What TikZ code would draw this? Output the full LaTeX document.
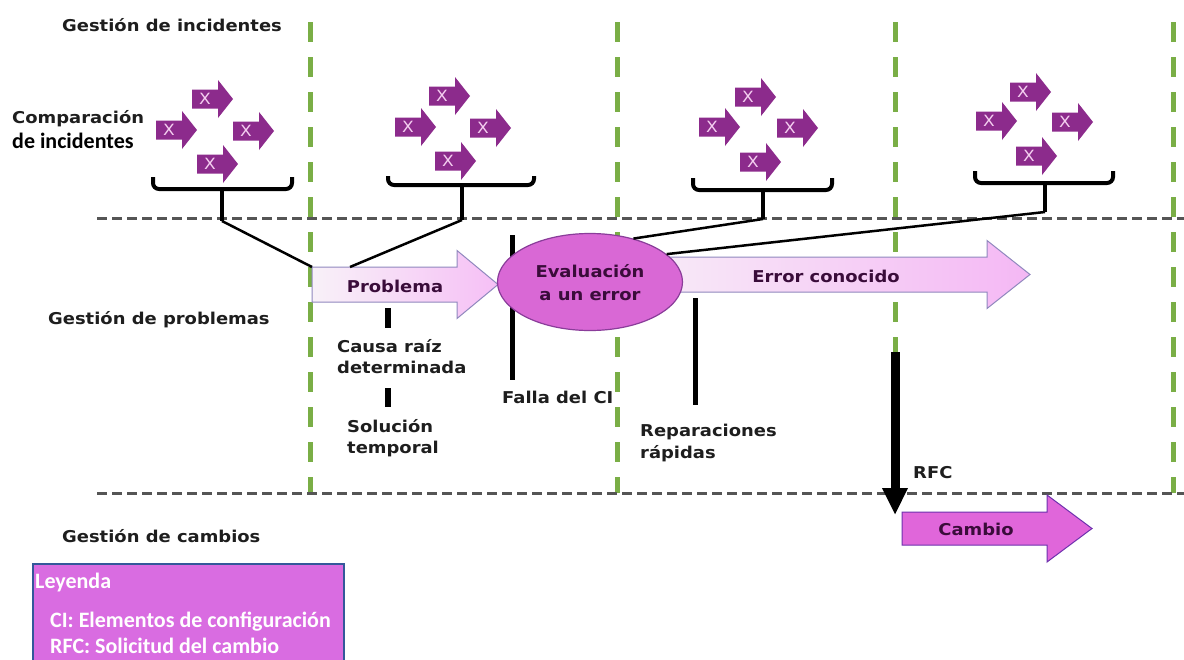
\documentclass[tikz,border=0pt]{standalone}
\usepackage{fontspec}
\setmainfont{DejaVu Sans}[FakeStretch=1.1]
\newfontfamily\calibri{Carlito}
\usetikzlibrary{shapes.geometric,arrows.meta,calc}

\definecolor{gridgray}{HTML}{555555}
\definecolor{lanegreen}{HTML}{7AAE46}
\definecolor{incpurple}{HTML}{8C2B8C}
\definecolor{xpink}{HTML}{F4CEF0}
\definecolor{evalfill}{HTML}{D968D5}
\definecolor{evaldraw}{HTML}{8A3D9A}
\definecolor{cambiofill}{HTML}{E066DA}
\definecolor{arrowedge}{HTML}{9088BE}
\definecolor{inktext}{HTML}{3A0C3A}
\definecolor{legendfill}{HTML}{D96CE1}
\definecolor{legenddraw}{HTML}{34589A}
\definecolor{labelink}{HTML}{1E1E1E}

\newcommand\lblfont{\bfseries\fontsize{16.3}{20}\selectfont}

% block arrow: name, style, tail x, head start x, tip x, centre y, half shaft, half head
\newcommand\blockarrow[8]{%
  \path[#2] (#3,#6-#7) coordinate (#1-nw) -- (#4,#6-#7) -- (#4,#6-#8)
    -- (#5,#6) coordinate (#1-tip) -- (#4,#6+#8) -- (#4,#6+#7)
    -- (#3,#6+#7) coordinate (#1-sw) -- cycle;
}
% one incident marker: name, left x, centre y
\newcommand\incident[3]{%
  \blockarrow{#1}{fill=incpurple}{#2}{#2+26}{#2+41}{#3}{9.5}{19}%
  \node[xmark] (#1-x) at (#2+13,#3) {X};
}
% grouping brace: name, left x, right x, hook top y, bar y, stem x, stem bottom y
\newcommand\incbrace[7]{%
  \draw[brace] (#2,#4) -- (#2,#5) -- (#3,#5) -- (#3,#4);
  \draw[brace, rounded corners=0pt] (#6,#5) -- (#6,#7) coordinate (#1);
}

\begin{document}
\begin{tikzpicture}[x=1pt,y=-1pt,
  lane/.style={draw=lanegreen, line width=5pt, dash pattern=on 20pt off 15pt},
  divider/.style={draw=gridgray, line width=3pt, dash pattern=on 10pt off 5pt},
  brace/.style={draw=black, line width=4pt, rounded corners=6pt},
  link/.style={draw=black, line width=2.5pt},
  marker/.style={draw=black, line width=6pt},
  xmark/.style={inner sep=0pt, text=xpink, font=\fontsize{15.5}{15.5}\selectfont},
  lbl/.style={inner sep=0pt, anchor=base west, text=labelink, font=\lblfont},
  inarrow/.style={inner sep=0pt, anchor=base, text=inktext, font=\lblfont},
  legendtext/.style={inner sep=0pt, anchor=base west, text=white, font=\calibri\bfseries\fontsize{22}{24}\selectfont},
  paleflow/.style={draw=arrowedge, line width=1pt},
]
\fill[white] (0,0) rectangle (1184,659);
\useasboundingbox (0,0) rectangle (1184,659);

% swimlane separators
\foreach \lx/\ln in {310/1, 617/2, 895/3, 1173/4}
  \draw[lane] (\lx,22) coordinate (lane\ln-top) -- (\lx,493) coordinate (lane\ln-bot);
\draw[divider] (97,218) coordinate (div1-l) -- (1184,218) coordinate (div1-r);
\draw[divider] (97,493) coordinate (div2-l) -- (1184,493) coordinate (div2-r);

% incident groups
\incident{a1}{192}{99}  \incident{a2}{156}{130} \incident{a3}{233}{131} \incident{a4}{197}{164}
\incident{b1}{429}{96}  \incident{b2}{395}{127} \incident{b3}{470}{128} \incident{b4}{435}{161}
\incident{c1}{735}{97}  \incident{c2}{699}{127} \incident{c3}{777}{128} \incident{c4}{740}{162}
\incident{d1}{1010}{92} \incident{d2}{976}{121} \incident{d3}{1052}{122} \incident{d4}{1016}{156}

\incbrace{st1}{153}{292}{177}{189}{222}{221}
\incbrace{st2}{388}{534}{176}{185}{462}{220}
\incbrace{st3}{693}{832}{178}{190}{763}{219}
\incbrace{st4}{975}{1113}{171}{183}{1045}{212}

% milestone markers
\draw[marker] (388,308) coordinate (m1-a) -- (388,328) coordinate (m1-b);
\draw[marker] (388,388) coordinate (m2-a) -- (388,407) coordinate (m2-b);
\draw[line width=5pt] (512,235) coordinate (m3-a) -- (512,380) coordinate (m3-b);
\draw[line width=5pt] (695,298) coordinate (m4-a) -- (695,405) coordinate (m4-b);

% problem flow
\blockarrow{prob}{paleflow, left color=white!55!violet!12, right color=violet!30!magenta!25}{312}{457}{498}{284.5}{17.5}{34}
\blockarrow{known}{paleflow, left color=magenta!28!violet!8, middle color=magenta!12!violet!5, right color=violet!30!magenta!28}{650}{987}{1030}{274.5}{17.5}{34}
\node[ellipse, minimum width=185pt, minimum height=97pt, inner sep=0pt,
      fill=evalfill, draw=evaldraw, line width=1.2pt] (ev) at (590,282) {};
\node[inarrow] (ev-l1) at (590,277) {Evaluación};
\node[inarrow] (ev-l2) at (590,300) {a un error};
\node[inarrow] (prob-t) at (395,292) {Problema};
\node[inarrow] (known-t) at (826,282) {Error conocido};

% links from incident groups
\draw[link] (st1) -- (prob-nw);
\draw[link] (st2) -- ([xshift=38pt]prob-nw);
\draw[link] (st3) -- (ev.45);
\draw[link] (st4) -- (ev.20);

% request for change
\coordinate (rfc-top) at (895,352);
\coordinate (rfc-end) at (895,515);
\draw[line width=9pt, -{Triangle[width=24pt,length=27pt]}] (rfc-top) -- (rfc-end);
\blockarrow{chg}{fill=cambiofill, draw=evaldraw!80!blue, line width=1pt}{902}{1047}{1092}{528.5}{16.5}{33.5}
\node[inarrow] (chg-t) at (976,535) {Cambio};

% lane and milestone labels
\node[lbl] (t-inc) at (62,31) {Gestión de incidentes};
\node[lbl] (t-comp) at (12,123) {Comparación};
\node[inner sep=0pt, anchor=base west, text=black, font=\calibri\bfseries\fontsize{22}{24}\selectfont] (t-comp2) at (12,148) {de incidentes};
\node[lbl] (t-prob) at (48,324) {Gestión de problemas};
\node[lbl] (t-camb) at (62,542) {Gestión de cambios};
\node[lbl] (t-causa1) at (337,352) {Causa raíz};
\node[lbl] (t-causa2) at (337,373) {determinada};
\node[lbl] (t-sol1) at (347,432) {Solución};
\node[lbl] (t-sol2) at (347,453) {temporal};
\node[lbl] (t-falla) at (502,403) {Falla del CI};
\node[lbl] (t-rep1) at (640,436) {Reparaciones};
\node[lbl] (t-rep2) at (640,458) {rápidas};
\node[lbl] (t-rfc) at (913,478) {RFC};

% legend
\node[anchor=north west, minimum width=311pt, minimum height=100pt, inner sep=0pt,
      fill=legendfill, draw=legenddraw, line width=1.5pt] (legend) at (32,563) {};
\node[legendtext] (leg-1) at (35,588) {Leyenda};
\node[legendtext] (leg-2) at (50,627) {CI: Elementos de configuración};
\node[legendtext] (leg-3) at (50,653) {RFC: Solicitud del cambio};
\end{tikzpicture}
\end{document}
